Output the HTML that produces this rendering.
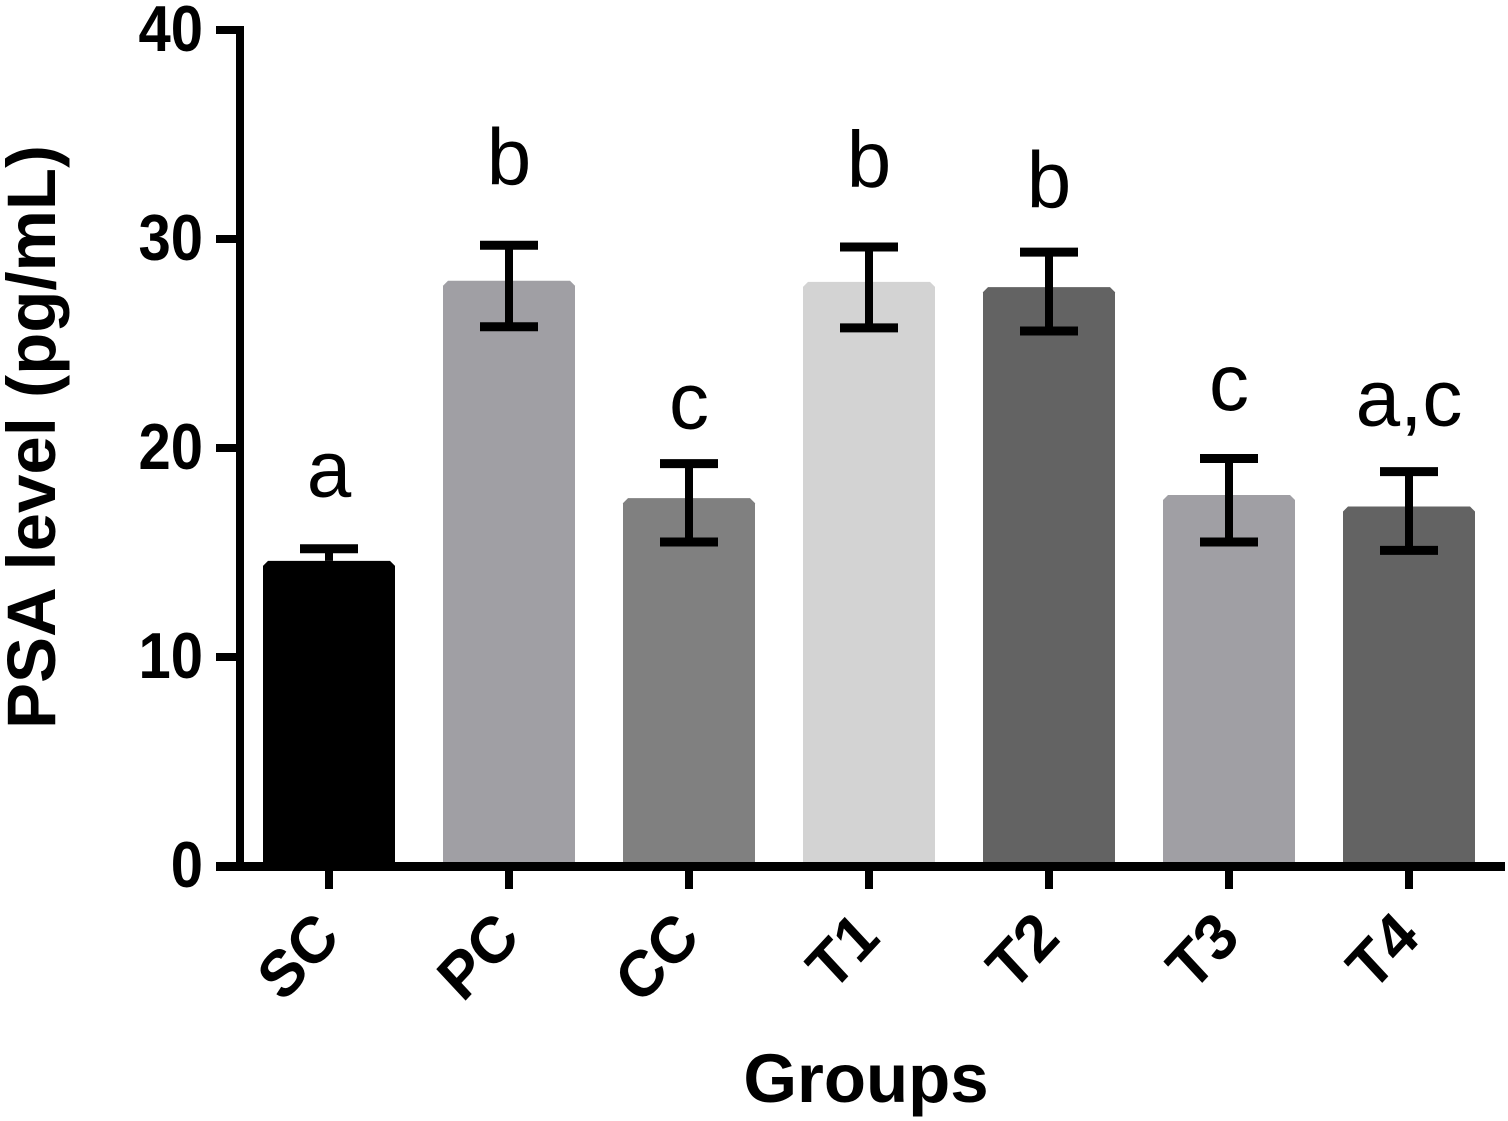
<!DOCTYPE html>
<html>
<head>
<meta charset="utf-8">
<style>
html,body{margin:0;padding:0;background:#fff;width:1508px;height:1121px;overflow:hidden}
svg{display:block;font-family:"Liberation Sans",Arial,sans-serif}
</style>
</head>
<body>
<svg id="chart" width="1508" height="1121" viewBox="0 0 1508 1121" xmlns="http://www.w3.org/2000/svg"></svg>
<script>
const categories = ["SC","PC","CC","T1","T2","T3","T4"];
const means = [14.6,28.0,17.6,27.95,27.7,17.75,17.2];
const errorUpper = [15.18,29.7,19.25,29.62,29.37,19.5,18.87];
const errorLower = [14.6,25.8,15.5,25.75,25.6,15.5,15.1];
const significance = ["a","b","c","b","b","c","a,c"];
const significanceLevels = [17.67,32.6,20.93,32.5,31.5,21.83,21.07];
const barColors = ["#000000","#a09fa4","#808080","#d3d3d3","#636363","#a09fa4","#636363"];
const yTicks = [0,10,20,30,40];

const svg = document.getElementById('chart');
const NS = 'http://www.w3.org/2000/svg';
function yScale(v){ return 866 - v * 20.9; }
function xScale(i){ return 329 + i * 180; }
function make(tag, attrs, parent){
  const el = document.createElementNS(NS, tag);
  for (const k in attrs) el.setAttribute(k, attrs[k]);
  (parent || svg).appendChild(el);
  return el;
}
const BAR_W = 132, CAP_W = 58, STROKE = 8;

categories.forEach(function(cat, i){
  const cx = xScale(i), top = yScale(means[i]), base = yScale(0), l = cx - BAR_W / 2, r = cx + BAR_W / 2, c = 5;
  const bar = make('path', {d:'M'+l+' '+base+'V'+(top+c)+'L'+(l+c)+' '+top+'H'+(r-c)+'L'+r+' '+(top+c)+'V'+base+'Z', fill:barColors[i]});
  
  

  const g = make('g', {stroke:'#000','stroke-width':STROKE,fill:'none'});
  
  
  const yU = yScale(errorUpper[i]), yL = yScale(errorLower[i]);
  make('line', {x1:cx,x2:cx,y1:yU,y2:yL}, g);
  make('line', {x1:cx-CAP_W/2,x2:cx+CAP_W/2,y1:yU,y2:yU,'stroke-width':STROKE+1}, g);
  if (errorLower[i] < means[i]) make('line', {x1:cx-CAP_W/2,x2:cx+CAP_W/2,y1:yL,y2:yL,'stroke-width':STROKE+1}, g);

  const sig = make('text', {x:cx,y:yScale(significanceLevels[i]),'text-anchor':'middle','font-size':80,fill:'#000'});
  sig.textContent = significance[i];
  
  

  const tick = make('line', {x1:cx,x2:cx,y1:866,y2:889,stroke:'#000','stroke-width':STROKE});
  
  

  const lab = make('text', {transform:'translate('+(cx+13)+' 940) scale(1.04 1.12) rotate(-45)','text-anchor':'end','font-size':58,'font-weight':'bold',fill:'#000'});
  lab.textContent = cat;
  
  
});

yTicks.forEach(function(t){
  const y = yScale(t);
  const tick = make('line', {x1:216,x2:240,y1:y,y2:y,stroke:'#000','stroke-width':STROKE});
  
  
  const lab = make('text', {transform:'translate(203 '+(y+21)+') scale(1 1.12)','text-anchor':'end','font-size':58,'font-weight':'bold',fill:'#000'});
  lab.textContent = t;
  
  
});

const yAxis = make('line', {x1:240,x2:240,y1:yScale(40)-4,y2:870,stroke:'#000','stroke-width':STROKE});


const xAxis = make('line', {x1:216,x2:1505,y1:866.5,y2:866.5,stroke:'#000','stroke-width':STROKE+1});



const yTitle = make('text', {transform:'translate(55 437) rotate(-90)','text-anchor':'middle','font-size':69,'font-weight':'bold',fill:'#000'});
yTitle.textContent = 'PSA level (pg/mL)';


const xTitle = make('text', {x:866,y:1102,'text-anchor':'middle','font-size':69,'font-weight':'bold',fill:'#000'});
xTitle.textContent = 'Groups';


</script>
</body>
</html>
